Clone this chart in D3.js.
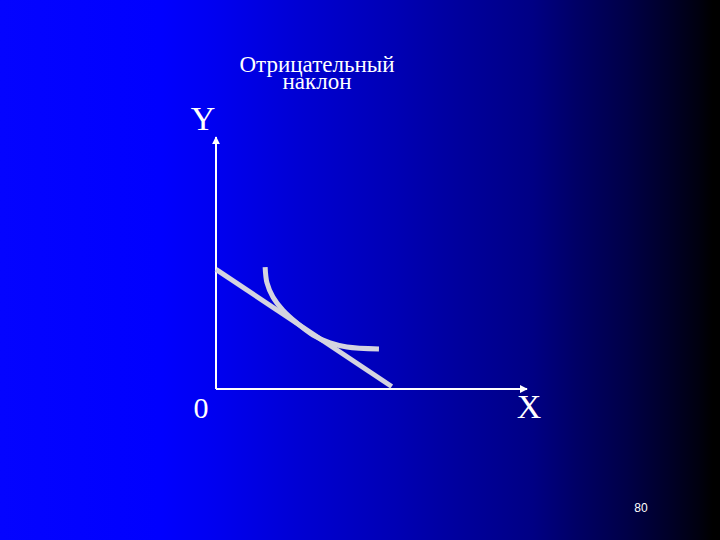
<!DOCTYPE html>
<html>
<head>
<meta charset="utf-8">
<script src="https://cdn.jsdelivr.net/npm/d3@7"></script>
<style>
  html, body { margin: 0; padding: 0; background: #000; }
  svg { display: block; }
</style>
</head>
<body>
<script>
// slide data, in axis units (0..10 on both axes)
const titleLines = ["Отрицательный", "наклон"];
const axisLabels = { x: "X", y: "Y", origin: "0" };
const pageNumber = "80";

// straight line with negative slope
const lineX = [0, 5.65];
const lineY = [4.75, 0.1];

// convex curve touching the line
const curveX = [1.58, 1.64, 1.83, 2.15, 2.60, 3.12, 3.67, 4.21, 5.24];
const curveY = [4.84, 4.21, 3.65, 3.13, 2.62, 2.14, 1.83, 1.67, 1.59];

const width = 720, height = 540;

const svg = d3.select("body").append("svg")
    .attr("width", width)
    .attr("height", height);

// background gradient blue -> black
const defs = svg.append("defs");
const grad = defs.append("linearGradient")
    .attr("id", "bg")
    .attr("x1", "0%").attr("x2", "100%")
    .attr("y1", "0%").attr("y2", "0%");
[[0, "#0404ff"], [0.22, "#0000ff"], [0.3, "#0000f0"], [0.42, "#0000d2"],
 [0.55, "#0000b4"], [0.61, "#0000a4"], [0.74, "#000084"], [0.8, "#000066"],
 [0.87, "#000048"], [0.93, "#000028"], [0.97, "#000010"], [0.99, "#000000"],
 [1, "#000000"]].forEach(([o, c]) => {
    grad.append("stop").attr("offset", o).attr("stop-color", c);
});
svg.append("rect")
    .attr("width", width).attr("height", height)
    .attr("fill", "url(#bg)");

// arrow head for axes
defs.append("marker")
    .attr("id", "arrow")
    .attr("viewBox", "0 0 10 10")
    .attr("refX", 9).attr("refY", 5)
    .attr("markerWidth", 4).attr("markerHeight", 4)
    .attr("orient", "auto")
  .append("path")
    .attr("d", "M0,0 L10,5 L0,10 z")
    .attr("fill", "#fff");

const x = d3.scaleLinear().domain([0, 10]).range([216, 527]);
const y = d3.scaleLinear().domain([0, 10]).range([389, 137]);

// axes
svg.append("line")
    .attr("x1", x(0)).attr("y1", y(0))
    .attr("x2", x(0)).attr("y2", y(10))
    .attr("stroke", "#fff").attr("stroke-width", 2)
    .attr("marker-end", "url(#arrow)");
svg.append("line")
    .attr("x1", x(0)).attr("y1", y(0))
    .attr("x2", x(10)).attr("y2", y(0))
    .attr("stroke", "#fff").attr("stroke-width", 2)
    .attr("marker-end", "url(#arrow)");

const markColor = "#d4d4e0";

// straight line
svg.append("path")
    .datum(d3.zip(lineX, lineY))
    .attr("d", d3.line().x(d => x(d[0])).y(d => y(d[1])))
    .attr("fill", "none")
    .attr("stroke", markColor)
    .attr("stroke-width", 5);

// curve
svg.append("path")
    .datum(d3.zip(curveX, curveY))
    .attr("d", d3.line().x(d => x(d[0])).y(d => y(d[1])).curve(d3.curveCatmullRom))
    .attr("fill", "none")
    .attr("stroke", markColor)
    .attr("stroke-width", 5);

// title
svg.append("text")
    .attr("x", 317).attr("y", 72)
    .attr("text-anchor", "middle")
    .attr("font-family", "'Liberation Serif', 'Times New Roman', serif")
    .attr("font-size", 23)
    .attr("fill", "#fff")
  .selectAll("tspan")
  .data(titleLines)
  .join("tspan")
    .attr("x", 317)
    .attr("dy", (d, i) => i ? 17 : 0)
    .text(d => d);

// axis labels
const labelFont = "'Liberation Serif', 'Times New Roman', serif";
svg.append("text")
    .attr("x", 203).attr("y", 130)
    .attr("text-anchor", "middle")
    .attr("font-family", labelFont).attr("font-size", 34)
    .attr("fill", "#fff")
    .text(axisLabels.y);
svg.append("text")
    .attr("x", 201).attr("y", 418)
    .attr("text-anchor", "middle")
    .attr("font-family", labelFont).attr("font-size", 30)
    .attr("fill", "#fff")
    .text(axisLabels.origin);
svg.append("text")
    .attr("x", 529).attr("y", 418)
    .attr("text-anchor", "middle")
    .attr("font-family", labelFont).attr("font-size", 34)
    .attr("fill", "#fff")
    .text(axisLabels.x);

// page number
svg.append("text")
    .attr("x", 641).attr("y", 512)
    .attr("text-anchor", "middle")
    .attr("font-family", "'Liberation Sans', Arial, sans-serif")
    .attr("font-size", 12)
    .attr("fill", "#fff")
    .text(pageNumber);
</script>
</body>
</html>
